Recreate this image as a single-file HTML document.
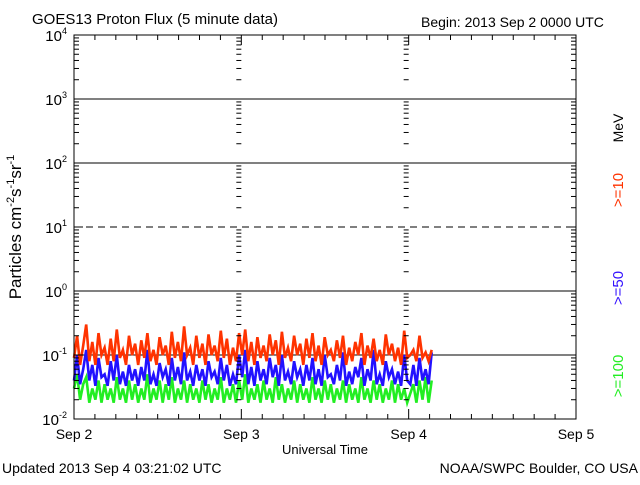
<!DOCTYPE html>
<html><head><meta charset="utf-8"><style>
body{margin:0;background:#fff;width:640px;height:480px;overflow:hidden;font-family:"Liberation Sans",sans-serif}
svg text{font-family:"Liberation Sans",sans-serif}
</style></head><body>
<svg id="chart" width="640" height="480">
<g id="grid"></g><g id="series"></g><g id="axes"></g>
<text x="32" y="24" font-size="15">GOES13 Proton Flux (5 minute data)</text>
<text x="421" y="27" font-size="14">Begin: 2013 Sep 2 0000 UTC</text>
<text x="325" y="454" font-size="13" text-anchor="middle">Universal Time</text>
<text x="2" y="473" font-size="14">Updated 2013 Sep  4 03:21:02 UTC</text>
<text x="638" y="473" font-size="14" text-anchor="end">NOAA/SWPC Boulder, CO USA</text>
<text transform="translate(21,227) rotate(-90)" font-size="17" text-anchor="middle">Particles cm<tspan font-size="11" dy="-7">-2</tspan><tspan dy="7">s</tspan><tspan font-size="11" dy="-7">-1</tspan><tspan dy="7">sr</tspan><tspan font-size="11" dy="-7">-1</tspan></text>
<text transform="translate(623,128) rotate(-90)" font-size="14" text-anchor="middle">MeV</text>
<text transform="translate(623,190) rotate(-90)" font-size="15" fill="#ff3300" text-anchor="middle">&gt;=10</text>
<text transform="translate(623,288) rotate(-90)" font-size="15" fill="#3311ff" text-anchor="middle">&gt;=50</text>
<text transform="translate(623,376) rotate(-90)" font-size="15" fill="#22ee22" text-anchor="middle">&gt;=100</text>
</svg>
<script>
const yTickExps=[-2,-1,0,1,2,3,4];
const dayLabels=["Sep 2","Sep 3","Sep 4","Sep 5"];
const stepHours=0.4385;
const red=[0.09,0.2,0.07,0.14,0.3,0.08,0.16,0.07,0.22,0.1,0.13,0.07,0.18,0.08,0.25,0.09,0.12,0.07,0.2,0.1,0.15,0.07,0.17,0.09,0.22,0.08,0.12,0.07,0.19,0.1,0.14,0.07,0.23,0.09,0.16,0.08,0.28,0.1,0.13,0.07,0.2,0.09,0.15,0.07,0.21,0.1,0.14,0.08,0.24,0.09,0.18,0.07,0.13,0.08,0.22,0.1,0.25,0.08,0.16,0.07,0.19,0.09,0.14,0.08,0.21,0.1,0.17,0.07,0.23,0.09,0.13,0.08,0.2,0.1,0.15,0.07,0.18,0.09,0.22,0.08,0.14,0.07,0.19,0.1,0.12,0.08,0.17,0.09,0.2,0.07,0.13,0.08,0.16,0.1,0.22,0.07,0.14,0.09,0.18,0.08,0.12,0.07,0.21,0.1,0.15,0.08,0.13,0.07,0.24,0.09,0.1,0.12,0.08,0.2,0.09,0.11,0.08,0.12];
const blue=[0.04,0.1,0.035,0.06,0.12,0.04,0.07,0.033,0.09,0.045,0.05,0.033,0.08,0.04,0.1,0.035,0.055,0.033,0.07,0.04,0.06,0.033,0.065,0.04,0.12,0.035,0.05,0.033,0.075,0.045,0.06,0.033,0.09,0.04,0.065,0.035,0.11,0.04,0.055,0.033,0.07,0.04,0.06,0.033,0.08,0.045,0.055,0.035,0.09,0.04,0.07,0.033,0.05,0.035,0.1,0.045,0.12,0.035,0.065,0.033,0.08,0.04,0.06,0.035,0.09,0.045,0.07,0.033,0.1,0.04,0.055,0.035,0.08,0.045,0.06,0.033,0.07,0.04,0.09,0.035,0.06,0.033,0.1,0.045,0.05,0.035,0.07,0.04,0.11,0.033,0.055,0.035,0.065,0.045,0.09,0.033,0.06,0.04,0.12,0.035,0.05,0.033,0.08,0.045,0.06,0.035,0.055,0.033,0.1,0.04,0.035,0.07,0.033,0.09,0.04,0.06,0.035,0.11];
const green=[0.03,0.05,0.02,0.035,0.045,0.018,0.03,0.02,0.04,0.018,0.035,0.02,0.03,0.018,0.045,0.02,0.03,0.018,0.04,0.02,0.035,0.018,0.03,0.02,0.05,0.018,0.03,0.02,0.04,0.018,0.035,0.02,0.045,0.018,0.03,0.02,0.04,0.018,0.035,0.02,0.03,0.018,0.04,0.02,0.035,0.018,0.03,0.02,0.045,0.018,0.03,0.02,0.035,0.018,0.04,0.02,0.05,0.018,0.03,0.02,0.035,0.018,0.04,0.02,0.03,0.018,0.045,0.02,0.035,0.018,0.03,0.02,0.04,0.018,0.035,0.02,0.03,0.018,0.045,0.02,0.03,0.018,0.04,0.02,0.035,0.018,0.03,0.02,0.04,0.018,0.035,0.02,0.03,0.018,0.045,0.02,0.03,0.018,0.04,0.02,0.035,0.018,0.03,0.02,0.04,0.018,0.035,0.02,0.03,0.018,0.025,0.035,0.018,0.04,0.02,0.045,0.018,0.04];
const NS="http://www.w3.org/2000/svg";
const L=74,R=576,T=35,B=419;
const xS=h=>L+(R-L)*h/72;
const yS=v=>B-(Math.log10(v)+2)*(B-T)/6;
function mk(tag,at,parent){const e=document.createElementNS(NS,tag);for(const k in at)e.setAttribute(k,at[k]);document.getElementById(parent).appendChild(e);return e;}
yTickExps.forEach(ex=>{
  if(ex===-2||ex===4)return;
  const y=yS(Math.pow(10,ex));
  const ln=mk('line',{x1:L,x2:R,y1:y,y2:y,stroke:'#000','stroke-width':1,'stroke-dasharray':ex===1?'7,5':'none'},'grid');
  
  
});
[[green,'#22ee22','series-100mev'],[blue,'#2211ff','series-50mev'],[red,'#ff3300','series-10mev']].forEach(([arr,c,n])=>{
  const pts=arr.map((v,i)=>xS(i*stepHours).toFixed(1)+','+yS(v).toFixed(1)).join(' ');
  const p=mk('polyline',{points:pts,fill:'none',stroke:c,'stroke-width':2.6},'series');
  
  
});
const fr=mk('rect',{x:L,y:T,width:R-L,height:B-T,fill:'none',stroke:'#000','stroke-width':1},'axes');


yTickExps.forEach(ex=>{
  const y=yS(Math.pow(10,ex));
  const t=mk('text',{x:L-7,y:y+6,'font-size':15,'text-anchor':'end'},'axes');
  
  
  t.innerHTML='10<tspan font-size="9" dy="-7">'+ex+'</tspan>';
  [[L,1],[R,-1]].forEach(([x0,d])=>mk('line',{x1:x0,x2:x0+d*9,y1:y,y2:y,stroke:'#000'},'axes'));
  if(ex<4)for(let m=2;m<10;m++){
    const ym=yS(m*Math.pow(10,ex));
    [[L,1,5],[R,-1,5],[xS(24),-0.5,5],[xS(48),-0.5,5]].forEach(([x0,d,len])=>{
      mk('line',{x1:x0,x2:x0+d*len*(d===-0.5?2:1),y1:ym,y2:ym,stroke:'#000'},'axes');});
  }
});
for(let h=0;h<=72;h+=3){
  const x=xS(h),len=h%24===0?10:5;
  mk('line',{x1:x,x2:x,y1:B,y2:B-len,stroke:'#000'},'axes');
  mk('line',{x1:x,x2:x,y1:T,y2:T+len,stroke:'#000'},'axes');
}
dayLabels.forEach((d,i)=>{
  const t=mk('text',{x:xS(i*24),y:439,'font-size':14,'text-anchor':'middle'},'axes');
  
  
  t.textContent=d;
});
</script>
</body></html>
